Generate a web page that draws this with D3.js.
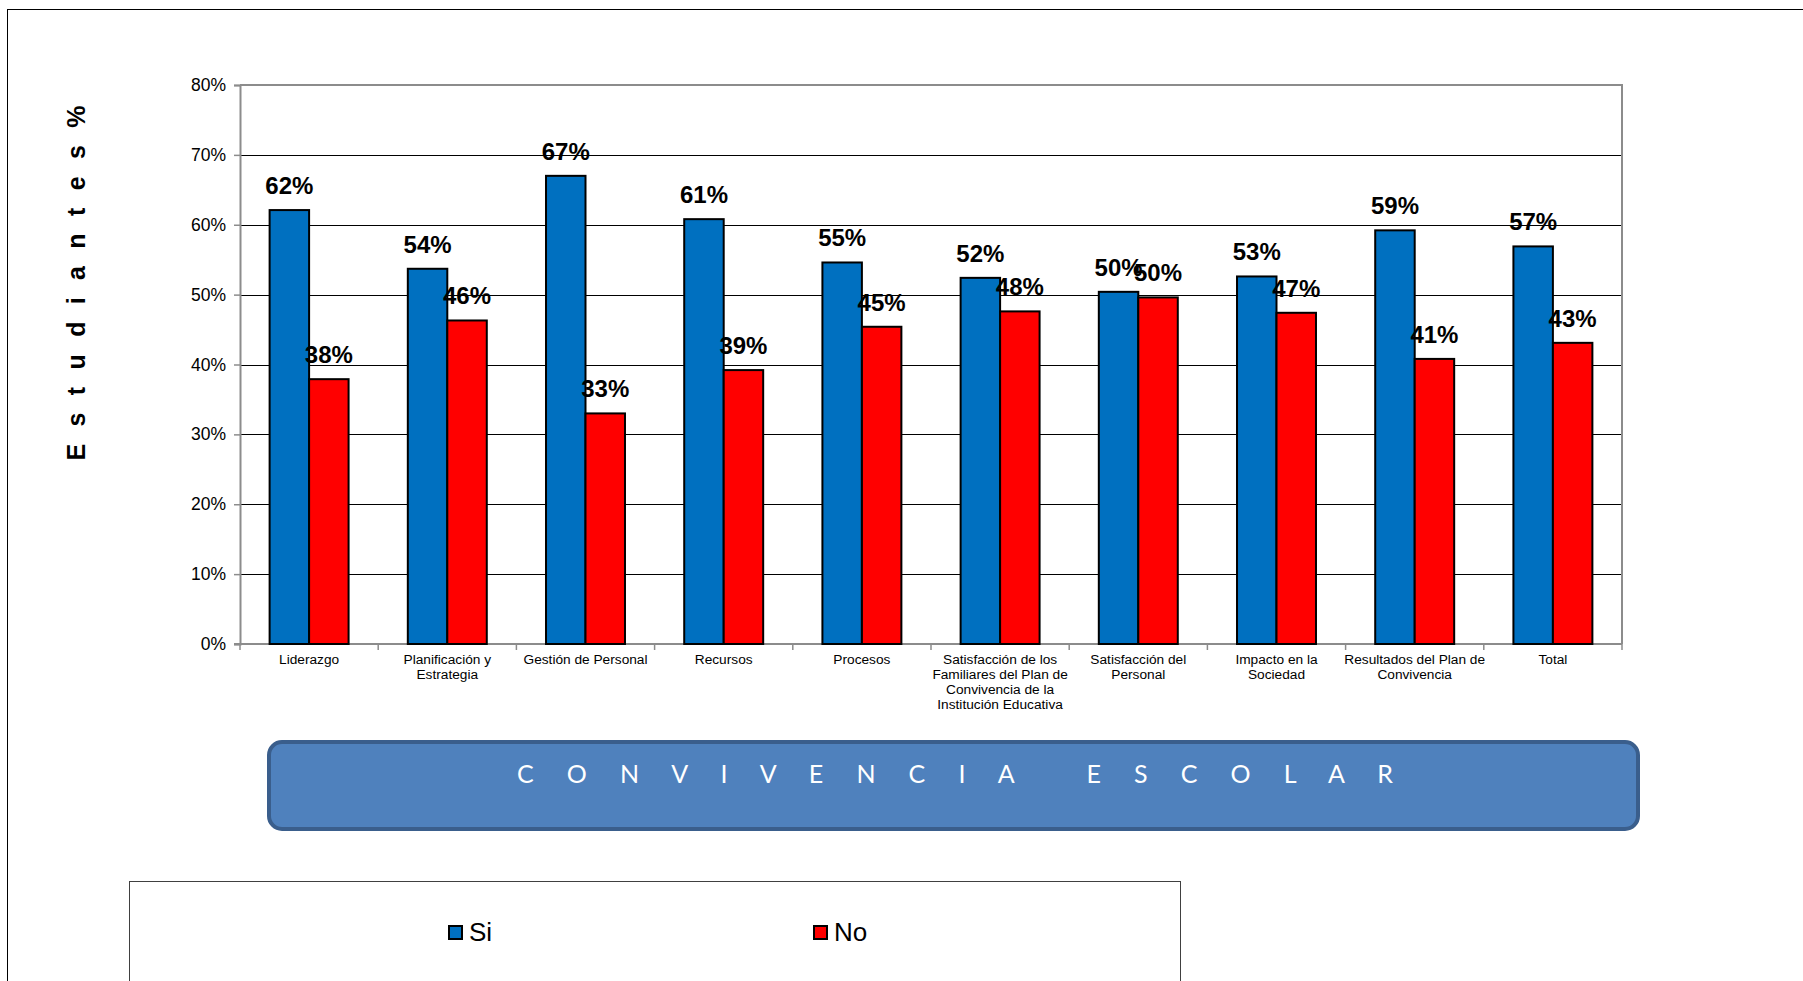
<!DOCTYPE html>
<html>
<head>
<meta charset="utf-8">
<script src="https://cdn.jsdelivr.net/npm/d3@7"></script>
<style>
  html, body { margin: 0; padding: 0; background: #ffffff; }
  svg { display: block; }
</style>
</head>
<body>
<svg id="chart" width="1803" height="981"></svg>
<script>
// ---------------- DATA ----------------
const categories = [
  "Liderazgo",
  "Planificación y Estrategia",
  "Gestión de Personal",
  "Recursos",
  "Procesos",
  "Satisfacción de los Familiares del Plan de Convivencia de la Institución Educativa",
  "Satisfacción del Personal",
  "Impacto en la Sociedad",
  "Resultados del Plan de Convivencia",
  "Total"
];
const categoryLines = [
  ["Liderazgo"],
  ["Planificación y", "Estrategia"],
  ["Gestión de Personal"],
  ["Recursos"],
  ["Procesos"],
  ["Satisfacción de los", "Familiares del Plan de", "Convivencia de la", "Institución Educativa"],
  ["Satisfacción del", "Personal"],
  ["Impacto en la", "Sociedad"],
  ["Resultados del Plan de", "Convivencia"],
  ["Total"]
];
const seriesNames = ["Si", "No"];
const siValues = [62.1, 53.7, 67.0, 60.8, 54.6, 52.4, 50.4, 52.6, 59.2, 56.9];
const noValues = [37.9, 46.3, 33.0, 39.2, 45.4, 47.6, 49.6, 47.4, 40.8, 43.1];
const yTicks = [0, 10, 20, 30, 40, 50, 60, 70, 80];
const yTitle = "E s t u d i a n t e s %";
const bannerTitle = "C O N V I V E N C I A   E S C O L A R";
const colors = { Si: "#0070C0", No: "#FF0000" };

// ---------------- LAYOUT ----------------
const svg = d3.select("#chart");
const plot = { left: 240, right: 1622, top: 85, bottom: 644 };
const FONT = "'Liberation Sans', Arial, sans-serif";

// outer frame
svg.append("rect")
  .attr("x", 7.5).attr("y", 9.5)
  .attr("width", 1850).attr("height", 1050)
  .attr("fill", "none").attr("stroke", "#000").attr("stroke-width", 1);

const x0 = d3.scaleBand()
  .domain(categories)
  .range([plot.left, plot.right])
  .paddingInner(1.5 / 3.5)
  .paddingOuter(0.75 / 3.5);
const x1 = d3.scaleBand().domain(seriesNames).range([0, x0.bandwidth()]);
const y = d3.scaleLinear().domain([0, 80]).range([plot.bottom, plot.top]);

// gridlines
svg.append("g").selectAll("line")
  .data(yTicks.filter(t => t > 0 && t < 80))
  .join("line")
  .attr("x1", plot.left).attr("x2", plot.right)
  .attr("y1", d => Math.round(y(d)) + 0.5).attr("y2", d => Math.round(y(d)) + 0.5)
  .attr("stroke", "#000").attr("stroke-width", 1);

// plot border top/right (gray)
svg.append("path")
  .attr("d", `M${plot.left},${plot.top}H${plot.right}V${plot.bottom}`)
  .attr("fill", "none").attr("stroke", "#8c8c8c").attr("stroke-width", 2);

// y axis
const yAxis = d3.axisLeft(y).tickValues(yTicks).tickFormat(d => d + "%").tickSize(6).tickPadding(8);
const gy = svg.append("g").attr("transform", `translate(${plot.left},0)`).call(yAxis);
gy.select(".domain").attr("stroke", "#8c8c8c").attr("stroke-width", 2);
gy.selectAll(".tick line").attr("stroke", "#8c8c8c").attr("stroke-width", 1.5);
gy.selectAll(".tick text")
  .attr("font-family", FONT).attr("font-size", 17.5).attr("fill", "#000");

// x axis baseline + boundary ticks
const step = x0.step();
const boundaries = d3.range(categories.length + 1).map(i => plot.left + i * step);
svg.append("line")
  .attr("x1", plot.left - 6).attr("x2", plot.right)
  .attr("y1", plot.bottom).attr("y2", plot.bottom)
  .attr("stroke", "#8c8c8c").attr("stroke-width", 2);
svg.append("g").selectAll("line")
  .data(boundaries)
  .join("line")
  .attr("x1", d => d).attr("x2", d => d)
  .attr("y1", plot.bottom).attr("y2", plot.bottom + 6)
  .attr("stroke", "#8c8c8c").attr("stroke-width", 1.5);

// x labels
const xl = svg.append("g").selectAll("text")
  .data(categories)
  .join("text")
  .attr("x", d => x0(d) + x0.bandwidth() / 2)
  .attr("y", 664)
  .attr("text-anchor", "middle")
  .attr("font-family", FONT).attr("font-size", 13.7).attr("fill", "#000");
xl.each(function(d, i) {
  const t = d3.select(this);
  categoryLines[i].forEach((ln, j) => {
    t.append("tspan").attr("x", x0(d) + x0.bandwidth() / 2).attr("dy", j === 0 ? 0 : 15).text(ln);
  });
});

// bars
const rows = categories.map((c, i) => ({ cat: c, Si: siValues[i], No: noValues[i] }));
const groups = svg.append("g").selectAll("g")
  .data(rows)
  .join("g")
  .attr("transform", d => `translate(${x0(d.cat)},0)`);
groups.selectAll("rect")
  .data(d => seriesNames.map(k => ({ key: k, value: d[k] })))
  .join("rect")
  .attr("x", d => x1(d.key))
  .attr("y", d => y(d.value))
  .attr("width", x1.bandwidth())
  .attr("height", d => y(0) - y(d.value))
  .attr("fill", d => colors[d.key])
  .attr("stroke", "#000").attr("stroke-width", 2);
groups.selectAll("text")
  .data(d => seriesNames.map(k => ({ key: k, value: d[k] })))
  .join("text")
  .attr("x", d => x1(d.key) + x1.bandwidth() / 2)
  .attr("y", d => y(d.value) - 16)
  .attr("text-anchor", "middle")
  .attr("font-family", FONT).attr("font-weight", "bold").attr("font-size", 24)
  .attr("fill", "#000")
  .text(d => Math.round(d.value) + "%");

// y title
svg.append("text")
  .attr("transform", `translate(85,283) rotate(-90)`)
  .attr("text-anchor", "middle")
  .attr("font-family", FONT).attr("font-weight", "bold").attr("font-size", 25)
  .attr("textLength", 355).attr("lengthAdjust", "spacing")
  .attr("fill", "#000")
  .text(yTitle);

// banner
svg.append("rect")
  .attr("x", 269).attr("y", 742)
  .attr("width", 1369).attr("height", 87)
  .attr("rx", 13).attr("ry", 13)
  .attr("fill", "#4F81BD").attr("stroke", "#3A5E8C").attr("stroke-width", 4);
svg.append("text")
  .attr("x", 955).attr("y", 783)
  .attr("text-anchor", "middle")
  .style("white-space", "pre")
  .attr("xml:space", "preserve")
  .attr("font-family", "Lato, 'Open Sans', sans-serif").attr("font-size", 25)
  .attr("textLength", 876).attr("lengthAdjust", "spacing")
  .attr("fill", "#ffffff")
  .text(bannerTitle);

// legend
svg.append("rect")
  .attr("x", 129.5).attr("y", 881.5)
  .attr("width", 1051).attr("height", 200)
  .attr("fill", "#fff").attr("stroke", "#404040").attr("stroke-width", 1);
const legendX = [449, 814];
const lg = svg.append("g").selectAll("g")
  .data(seriesNames)
  .join("g")
  .attr("transform", (d, i) => `translate(${legendX[i]},926)`);
lg.append("rect")
  .attr("width", 13).attr("height", 13)
  .attr("fill", d => colors[d]).attr("stroke", "#000").attr("stroke-width", 2);
lg.append("text")
  .attr("x", 20).attr("y", 15)
  .attr("font-family", FONT).attr("font-size", 26).attr("fill", "#000")
  .text(d => d);
</script>
</body>
</html>
